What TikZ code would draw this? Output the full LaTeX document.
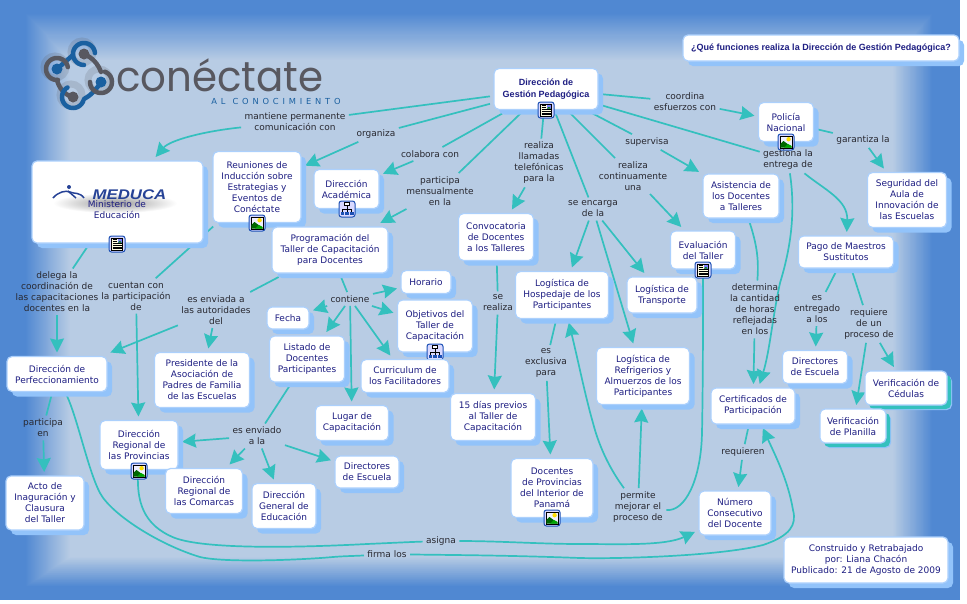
\documentclass[tikz,border=0pt]{standalone}
\usepackage{fontspec}
\setmainfont{DejaVu Sans}
\newfontfamily\boldfam{Liberation Sans}
\newfontfamily\widefam[FakeStretch=1.2]{Liberation Sans}
\newfontfamily\logofam[FakeStretch=.96]{Poppins}
\newfontfamily\logosmall[LetterSpace=46]{DejaVu Sans}
\usetikzlibrary{arrows.meta,shadows,calc}
\definecolor{bgblue}{RGB}{80,136,210}
\definecolor{bglight}{RGB}{184,204,228}
\definecolor{edgeteal}{RGB}{52,192,190}
\definecolor{boxline}{RGB}{172,208,252}
\definecolor{shadowblue}{RGB}{146,195,250}
\definecolor{boxtext}{RGB}{30,30,130}
\definecolor{labtext}{RGB}{40,40,48}
\definecolor{iconblue}{RGB}{28,80,180}
\definecolor{logogrey}{RGB}{88,88,96}
\definecolor{logoblue}{RGB}{26,96,160}
\definecolor{medblue}{RGB}{38,66,150}
\pgfdeclarelayer{bgl}
\pgfdeclarelayer{edges}
\pgfsetlayers{bgl,edges,main}
\tikzset{
  x=1pt,y=-1pt,
  concept/.style={draw=boxline,line width=1.2pt,fill=white,rounded corners=5pt,
    align=center,inner sep=0pt,outer sep=4pt,text=boxtext,
    font=\fontsize{9}{11}\selectfont,
    general shadow={fill=shadowblue,shadow xshift=5pt,shadow yshift=-5pt}},
  tealbox/.style={concept,general shadow={fill=edgeteal,shadow xshift=4pt,shadow yshift=-4pt}},
  boldbox/.style={concept,font=\boldfam\bfseries\fontsize{9}{11.5}\selectfont},
  linking/.style={align=center,inner sep=1pt,outer sep=2.5pt,text=labtext,
    font=\fontsize{9}{11}\selectfont},
  link/.style={draw=edgeteal,line width=1.7pt},
  arr/.style={link,-{Stealth[length=14pt,width=14pt,inset=1.5pt]}},
  iconframe/.style={draw=iconblue,line width=1pt,fill=blue!15,rounded corners=2.5pt},
  pics/docicon/.style={code={
    \draw[iconframe] (-8,-8) rectangle (8,8);
    \draw[black,line width=.5pt,fill=yellow!12] (-5.5,-6) rectangle (5.5,6);
    \fill[blue!50] (0.5,-5.3) rectangle (4.9,-1);
    \fill[green!50!black] (1,-1.4) -- (2.8,-3.2) -- (4.7,-1.4) -- cycle;
    \foreach \yy in {-4.5,-2.5}{\draw[black,line width=.6pt] (-4.5,\yy) -- (-.5,\yy);}
    \foreach \yy in {-.3,1.4,3,4.6}{\draw[black,line width=.6pt] (-4.5,\yy) -- (4.5,\yy);}
  }},
  pics/imgicon/.style={code={
    \draw[iconframe] (-8,-8) rectangle (8,8);
    \draw[black,line width=.5pt,fill=blue!6] (-6,-6) rectangle (6,6);
    \fill[green!40!black] (-5.7,5.7) -- (-5.7,2) -- (-2.5,-1) -- (5.7,5) -- (5.7,5.7) -- cycle;
    \fill[green!65!black] (-2,5.7) -- (2,2) -- (5.7,4) -- (5.7,5.7) -- cycle;
    \fill[yellow!80!orange] (2.6,-2.8) circle (2.2pt);
  }},
  pics/mapicon/.style={code={
    \draw[iconframe] (-8,-8) rectangle (8,8);
    \draw[black,line width=.7pt] (0,-4) -- (0,0) (-4.5,3) -- (-4.5,0) -- (4.5,0) -- (4.5,3) (0,0) -- (0,3);
    \draw[black,line width=.6pt,fill=white] (-2.5,-6.5) rectangle (2.5,-3.5);
    \fill[iconblue] (-6.5,3) rectangle (-3,6);
    \fill[iconblue] (-1.6,2.5) rectangle (1.6,6);
    \fill[iconblue] (3,3) rectangle (6.5,6);
  }}
}
\newcommand{\ccpt}[6][concept]{\node[#1,minimum width=#4pt,minimum height=#5pt] (#2) at (#3) {#6};}
\newcommand{\logoarc}[5]{\draw[#1] plot[domain=#4:#5,samples=30,smooth] ({#2+11*cos(\x)},{#3-11*sin(\x)});}
\newcommand{\logochain}{%
    \draw[logoblue] (57,69) -- (73,55);
    \draw[logogrey] (84,54) .. controls (93,58) and (98,64) .. (101,72);
    \draw[logogrey] (57,80) .. controls (59,88) and (64,94) .. (72,97);
    \draw[logoblue] (101,82) .. controls (96,90) and (90,96) .. (84,99);
    \logoarc{logoblue}{84}{54}{5}{270}
    \logoarc{logogrey}{57}{69}{10}{275}
    \logoarc{logogrey}{101}{82}{-180}{70}
    \logoarc{logoblue}{73}{97}{120}{340}
    \fill[logoblue] (57,69) circle (5.5pt) (101,82) circle (5.5pt);
    \fill[logogrey] (84,54) circle (5.5pt) (73,97) circle (5.5pt);}
\begin{document}
\begin{tikzpicture}
\useasboundingbox (0,0) rectangle (967,603);
\begin{pgfonlayer}{bgl}
  \fill[white] (0,0) rectangle (967,603);
  \fill[bgblue] (0,0) rectangle (960,600);
  \foreach \i in {0,...,46}{
    \pgfmathsetmacro\tt{\i/46}
    \pgfmathsetmacro\pp{100*\tt}
    \fill[bglight!\pp!bgblue] ({25+45*\tt},{13+47*\tt}) rectangle ({933-40*\tt},{587-30*\tt});
  }
  \begin{scope}[shift={(-2,-2)},opacity=.18,line width=7pt,line cap=round]
    \draw[logogrey] (57,69) circle (11pt) (84,54) circle (11pt) (101,82) circle (11pt) (73,97) circle (11pt);
  \end{scope}
  \begin{scope}[line width=4.5pt,line cap=round]
    \logochain
  \end{scope}
\end{pgfonlayer}

\node[anchor=base west,inner sep=0,text=logogrey,font=\logofam\fontsize{42}{42}\selectfont] (logo) at (116,91) {conéctate};
\node[inner sep=0,text=logoblue,font=\logosmall\fontsize{8.3}{10}\selectfont] (logob) at (276,101) {AL\hspace{7pt}CONOCIMIENTO};

% concepts
\ccpt{med}{117.5,202}{171}{82}{}
\shade[inner color=black!40,outer color=white] (115,203) ellipse (62 and 10);
\draw[medblue,line width=1.5pt] (53,198) .. controls (58,192) and (66,190) .. (70,192) .. controls (74,194) and (80,192) .. (84,198);
\draw[medblue,line width=1.5pt] (68,191) -- (76,198);
\fill[medblue] (69,187) circle (2pt);
\node[inner sep=0,text=medblue,font=\widefam\bfseries\itshape\fontsize{14}{15}\selectfont] (medlogo) at (129.5,194.5) {MEDUCA};
\node[inner sep=0,align=center,text=boxtext,font=\fontsize{9}{11}\selectfont] (medtxt) at (117,209.5) {Ministerio de\\Educación};
\pic at (117,244) {docicon};

\ccpt{reu}{257,187}{88}{71}{Reuniones de\\Inducción sobre\\Estrategias y\\Eventos de\\Conéctate}
\pic at (257,223) {imgicon};
\ccpt{aca}{346.5,189}{65}{39}{Dirección\\Académica}
\pic at (347,209) {mapicon};
\ccpt{pro}{330,250}{116}{46}{Programación del\\Taller de Capacitación\\para Docentes}
\ccpt{hor}{426,282}{50}{23}{Horario}
\ccpt{con}{496,237}{75}{47}{Convocatoria\\de Docentes\\a los Talleres}
\ccpt[boldbox]{dg}{546,89}{104}{41}{Dirección de\\Gestión Pedagógica}
\pic at (546,110) {docicon};
\ccpt[boldbox]{que}{821,48}{276}{26}{¿Qué funciones realiza la Dirección de Gestión Pedagógica?}
\ccpt{pol}{786,122}{55}{39}{Policía\\Nacional}
\pic at (786,142) {imgicon};
\ccpt{seg}{907,200}{79}{55}{Seguridad del\\Aula de\\Innovación de\\las Escuelas}
\ccpt{asi}{741,196}{76}{44}{Asistencia de\\los Docentes\\a Talleres}
\ccpt{eva}{703,250}{65}{38}{Evaluación\\del Taller}
\pic at (703,270) {docicon};
\ccpt{pag}{846,252}{95}{32}{Pago de Maestros\\Sustitutos}
\ccpt{hos}{562,295}{93}{47}{Logística de\\Hospedaje de los\\Participantes}
\ccpt{tra}{662,295}{70}{36}{Logística de\\Transporte}
\ccpt{fec}{288,318}{42}{22}{Fecha}
\ccpt{obj}{435,326}{75}{52}{Objetivos del\\Taller de\\Capacitación}
\pic at (435,352) {mapicon};
\ccpt{lis}{307,359}{75}{46}{Listado de\\Docentes\\Participantes}
\ccpt{cur}{405,376}{88}{33}{Curriculum de\\los Facilitadores}
\ccpt{perf}{57,374}{100}{35}{Dirección de\\Perfeccionamiento}
\ccpt{pre}{202,380}{95}{55}{Presidente de la\\Asociación de\\Padres de Familia\\de las Escuelas}
\ccpt{lug}{352,423}{73}{35}{Lugar de\\Capacitación}
\ccpt{dia}{493,417}{85}{47}{15 días previos\\al Taller de\\Capacitación}
\ccpt{prv}{139,445}{78}{49}{Dirección\\Regional de\\las Provincias}
\pic at (139,471) {imgicon};
\ccpt{com}{204,491}{77}{45}{Dirección\\Regional de\\las Comarcas}
\ccpt{gen}{284,506}{64}{45}{Dirección\\General de\\Educación}
\ccpt{dir}{367,472}{64}{32}{Directores\\de Escuela}
\ccpt{act}{45,503}{78}{54}{Acto de\\Inaguración y\\Clausura\\del Taller}
\ccpt{ref}{643,376}{93}{57}{Logística de\\Refrigerios y\\Almuerzos de los\\Participantes}
\ccpt{doc}{552,488}{82}{59}{Docentes\\de Provincias\\del Interior de\\Panamá}
\pic at (552,518) {imgicon};
\ccpt{cer}{753,406}{84}{36}{Certificados de\\Participación}
\ccpt{die}{815,367}{65}{33}{Directores\\de Escuela}
\ccpt[tealbox]{ced}{906,388}{82}{34}{Verificación de\\Cédulas}
\ccpt[tealbox]{pla}{853,426}{66}{34}{Verificación\\de Planilla}
\ccpt{num}{735,513}{72}{44}{Número\\Consecutivo\\del Docente}
\ccpt{cons}{866,560}{164}{46}{Construido y Retrabajado\\por: Liana Chacón\\Publicado: 21 de Agosto de 2009}

% linking phrases
\node[linking] (man) at (295,122) {mantiene permanente\\comunicación con};
\node[linking] (org) at (376,134) {organiza};
\node[linking] (col) at (430,154) {colabora con};
\node[linking] (par) at (440,191) {participa\\mensualmente\\en la};
\node[linking] (lla) at (539,163) {realiza\\llamadas\\telefónicas\\para la};
\node[linking] (enc) at (593,209) {se encarga\\de la};
\node[linking] (rcu) at (633,176) {realiza\\continuamente\\una};
\node[linking] (sup) at (647,142) {supervisa};
\node[linking] (coo) at (685,102) {coordina\\esfuerzos con};
\node[linking] (ges) at (788,160) {gestiona la\\entrega de};
\node[linking] (gar) at (863,140) {garantiza la};
\node[linking] (del) at (57,292) {delega la\\coordinación de\\las capacitaciones\\docentes en la};
\node[linking] (cue) at (136,296) {cuentan con\\la participación\\de};
\node[linking] (env) at (216,310) {es enviada a\\las autoridades\\del};
\node[linking] (cnt) at (350,299) {contiene};
\node[linking] (sre) at (498,303) {se\\realiza};
\node[linking] (exc) at (546,363) {es\\exclusiva\\para};
\node[linking] (det) at (755,309.5) {determina\\la cantidad\\de horas\\reflejadas\\en los};
\node[linking] (ent) at (817,309) {es\\entregado\\a los};
\node[linking] (req) at (869,324) {requiere\\de un\\proceso de};
\node[linking] (rqn) at (743,452) {requieren};
\node[linking] (perm) at (638,507) {permite\\mejorar el\\proceso de};
\node[linking] (eno) at (257,436) {es enviado\\a la};
\node[linking] (pen) at (43,428) {participa\\en};
\node[linking] (asg) at (441,541) {asigna};
\node[linking] (fir) at (387,554) {firma los};

\begin{pgfonlayer}{edges}
  \draw[link] (dg) -- (man);
  \draw[arr] (man) .. controls (205,131) and (170,140) .. (med);
  \draw[link] (dg) -- (org);
  \draw[arr] (org) -- (reu);
  \draw[link] (dg) -- (col);
  \draw[arr] (col) -- (aca);
  \draw[link] (dg) -- (par);
  \draw[arr] (par) -- (pro);
  \draw[link] (dg) -- (lla);
  \draw[arr] (lla) -- (con);
  \draw[link] (dg) -- (enc);
  \draw[arr] (enc) -- (hos);
  \draw[arr] (enc) -- (tra);
  \draw[arr] (enc) -- (ref);
  \draw[link] (dg) -- (rcu);
  \draw[arr] (rcu) -- (eva);
  \draw[link] (dg) -- (sup);
  \draw[arr] (sup) -- (asi);
  \draw[link] (dg) -- (coo);
  \draw[arr] (coo) -- (pol);
  \draw[link] (dg) -- (ges);
  \draw[arr] (ges) .. controls (825,190) and (848,200) .. (pag);
  \draw[arr] (ges) .. controls (796,215) and (790,250) .. (780,283) .. controls (772,320) and (770,350) .. (cer);
  \draw[link] (pol) -- (gar);
  \draw[arr] (gar) -- (seg);
  \draw[link] (asi) .. controls (757,245) and (759,260) .. (det);
  \draw[arr] (det) -- (cer);
  \draw[link] (eva) .. controls (703,330) and (703,380) .. (702,433) .. controls (701,480) and (685,512) .. (perm);
  \draw[arr] (perm) .. controls (612,472) and (600,450) .. (593,423) .. controls (585,395) and (578,360) .. (hos);
  \draw[arr] (perm) -- (ref);
  \draw[link] (pag) -- (ent);
  \draw[arr] (ent) -- (die);
  \draw[link] (pag) -- (req);
  \draw[arr] (req) -- (pla);
  \draw[arr] (req) -- (ced);
  \draw[link] (cer) -- (rqn);
  \draw[arr] (rqn) -- (num);
  \draw[link] (hos) -- (exc);
  \draw[arr] (exc) -- (doc);
  \draw[link] (con) -- (sre);
  \draw[arr] (sre) -- (dia);
  \draw[link] (reu) -- (cue);
  \draw[arr] (cue) -- (prv);
  \draw[link] (med) -- (del);
  \draw[arr] (del) -- (perf);
  \draw[link] (pro) -- (env);
  \draw[arr] (env) -- (perf);
  \draw[arr] (env) -- (pre);
  \draw[link] (pro) -- (cnt);
  \draw[arr] (cnt) -- (hor);
  \draw[arr] (cnt) -- (fec);
  \draw[arr] (cnt) -- (obj);
  \draw[arr] (cnt) -- (lis);
  \draw[arr] (cnt) -- (lug);
  \draw[arr] (cnt) -- (cur);
  \draw[link] (lis) -- (eno);
  \draw[arr] (eno) -- (prv);
  \draw[arr] (eno) -- (com);
  \draw[arr] (eno) -- (gen);
  \draw[arr] (eno) -- (dir);
  \draw[link] (perf) -- (pen);
  \draw[arr] (pen) -- (act);
  \draw[link] (prv) .. controls (137,500) and (142,525) .. (175,538) .. controls (205,549) and (290,548) .. (367,544) .. controls (390,543) and (410,542) .. (asg);
  \draw[arr] (asg) .. controls (500,541) and (540,544) .. (580,544) .. controls (620,544) and (665,546) .. (num);
  \draw[link] (perf) .. controls (78,420) and (88,470) .. (100,493) .. controls (112,515) and (160,545) .. (200,557) .. controls (225,563) and (300,560) .. (333,557) .. controls (345,556) and (355,556) .. (fir);
  \draw[arr] (fir) .. controls (440,555) and (500,555) .. (580,558) .. controls (620,559) and (720,556) .. (763,545) .. controls (790,536) and (797,525) .. (793,510) .. controls (788,480) and (775,455) .. (cer);
\end{pgfonlayer}
\end{tikzpicture}
\end{document}
